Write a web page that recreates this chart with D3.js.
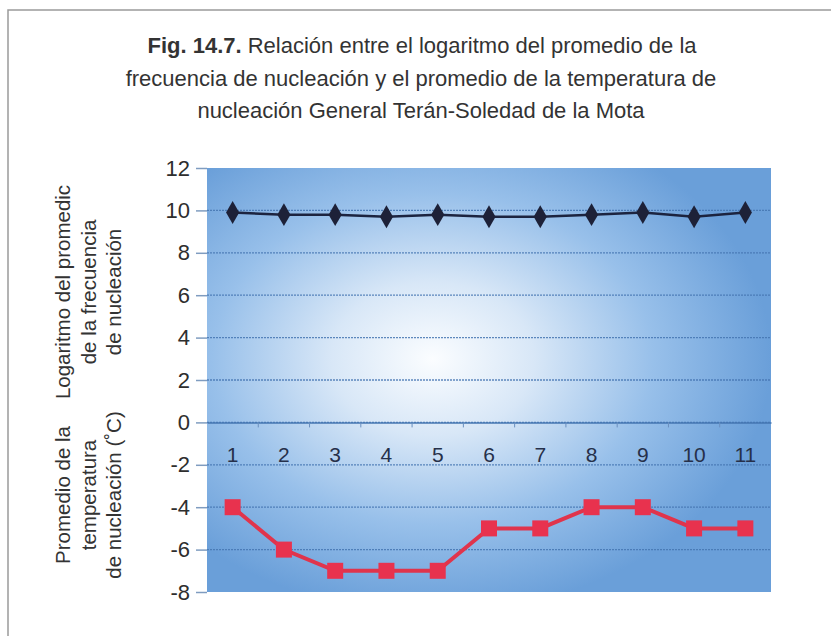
<!DOCTYPE html>
<html>
<head>
<meta charset="utf-8">
<script src="https://cdn.jsdelivr.net/npm/d3@7"></script>
<style>
  body { margin: 0; background: #fff; }
  svg { display: block; font-family: "Liberation Sans", Arial, sans-serif; }
</style>
</head>
<body>
<div id="chart"></div>
<script>
// Data
const categories = ["1", "2", "3", "4", "5", "6", "7", "8", "9", "10", "11"];
const logFrequency = [9.9, 9.8, 9.8, 9.7, 9.8, 9.7, 9.7, 9.8, 9.9, 9.7, 9.9];
const temperature = [-4, -6, -7, -7, -7, -5, -5, -4, -4, -5, -5];
const yTicks = [-8, -6, -4, -2, 0, 2, 4, 6, 8, 10, 12];
const titleLines = [
    "Relación entre el logaritmo del promedio de la",
    "frecuencia de nucleación y el promedio de la temperatura de",
    "nucleación General Terán-Soledad de la Mota"
];
const titlePrefix = "Fig. 14.7.";
const yTitleTop = ["Logaritmo del promedic", "de la frecuencia", "de nucleación"];
const yTitleBottom = ["Promedio de la", "temperatura", "de nucleación (˚C)"];

const W = 831, H = 636;
const plot = {left: 207, right: 771, top: 168, bottom: 592};

const svg = d3.select("#chart").append("svg")
    .attr("width", W)
    .attr("height", H);

svg.append("rect").attr("width", W).attr("height", H).attr("fill", "#fff");

// outer frame of the scanned page
svg.append("rect")
    .attr("x", 8).attr("y", 10)
    .attr("width", 860).attr("height", 660)
    .attr("fill", "none")
    .attr("stroke", "#9a9a9a")
    .attr("stroke-width", 1.5);

// Title
const title = svg.append("g").attr("fill", "#333").attr("font-size", 22).attr("text-anchor", "middle");
const t1 = title.append("text").attr("x", 422).attr("y", 53);
t1.append("tspan").attr("font-weight", "bold").text(titlePrefix + " ");
t1.append("tspan").text(titleLines[0]);
titleLines.slice(1).forEach((l, i) => {
    title.append("text").attr("x", 421).attr("y", 86 + i * 32).text(l);
});

const x = d3.scaleBand().domain(categories).range([plot.left, plot.right]);
const y = d3.scaleLinear().domain([-8, 12]).range([plot.bottom, plot.top]);

// Plot background gradient
const defs = svg.append("defs");
const grad = defs.append("radialGradient")
    .attr("id", "bg")
    .attr("cx", "40%").attr("cy", "45%").attr("r", "60%");
grad.append("stop").attr("offset", 0).attr("stop-color", "#fbfdff");
grad.append("stop").attr("offset", 0.3).attr("stop-color", "#d8e7f7");
grad.append("stop").attr("offset", 0.65).attr("stop-color", "#98c0ea");
grad.append("stop").attr("offset", 1).attr("stop-color", "#6a9fd9");

svg.append("rect")
    .attr("x", plot.left).attr("y", plot.top)
    .attr("width", plot.right - plot.left)
    .attr("height", plot.bottom - plot.top)
    .attr("fill", "url(#bg)");

// Gridlines
svg.append("g")
    .selectAll("line")
    .data(yTicks.filter(d => d !== 12 && d !== -8))
    .join("line")
    .attr("x1", plot.left).attr("x2", plot.right)
    .attr("y1", d => y(d)).attr("y2", d => y(d))
    .attr("stroke", "#4576b2")
    .attr("stroke-width", 1.3)
    .attr("stroke-dasharray", "2,1")
    .attr("opacity", 0.85);

// Y axis
const yAxis = svg.append("g")
    .attr("transform", `translate(${plot.left},0)`)
    .call(d3.axisLeft(y).tickValues(yTicks).tickSize(11).tickPadding(6).tickFormat(d3.format("d")));
yAxis.select(".domain").remove();
yAxis.selectAll(".tick line").attr("stroke", "#7f9cc0").attr("stroke-width", 1.5);
yAxis.selectAll(".tick text")
    .attr("font-size", 22)
    .attr("fill", "#2e2e2e")
    .attr("font-family", "'Liberation Sans', Arial, sans-serif")
    .text(d => d < 0 ? "-" + Math.abs(d) : d);

// X axis at zero
const xAxis = svg.append("g")
    .attr("transform", `translate(0,${y(0)})`)
    .call(d3.axisBottom(x).tickSize(0).tickPadding(25));
xAxis.select(".domain").attr("stroke", "#4576b2").attr("stroke-width", 1.5);
xAxis.selectAll(".tick text")
    .attr("font-size", 21)
    .attr("fill", "#26304a")
    .attr("font-family", "'Liberation Sans', Arial, sans-serif");
// small tick marks on category boundaries
svg.append("g")
    .selectAll("line")
    .data(categories.slice(1))
    .join("line")
    .attr("x1", d => x(d)).attr("x2", d => x(d))
    .attr("y1", y(0)).attr("y2", y(0) + 5)
    .attr("stroke", "#6a8fbf")
    .attr("stroke-width", 1);

const cx = (d, i) => x(categories[i]) + x.bandwidth() / 2;

// Log frequency series
svg.append("path")
    .datum(logFrequency)
    .attr("fill", "none")
    .attr("stroke", "#1c2440")
    .attr("stroke-width", 2.5)
    .attr("d", d3.line().x(cx).y(d => y(d)));
svg.append("g")
    .selectAll("path")
    .data(logFrequency)
    .join("path")
    .attr("transform", (d, i) => `translate(${cx(d, i)},${y(d)})`)
    .attr("d", d3.symbol(d3.symbolDiamond, 150))
    .attr("fill", "#1d2138");

// Temperature series
svg.append("path")
    .datum(temperature)
    .attr("fill", "none")
    .attr("stroke", "#e0344c")
    .attr("stroke-width", 4)
    .attr("d", d3.line().x(cx).y(d => y(d)));
svg.append("g")
    .selectAll("rect")
    .data(temperature)
    .join("rect")
    .attr("x", (d, i) => cx(d, i) - 8)
    .attr("y", d => y(d) - 8)
    .attr("width", 16).attr("height", 16)
    .attr("fill", "#e8324e");

// Y axis titles (rotated)
function yTitle(lines, centerY) {
    const g = svg.append("g")
        .attr("fill", "#333")
        .attr("font-size", 20.5)
        .attr("text-anchor", "middle");
    lines.forEach((l, i) => {
        g.append("text")
            .attr("transform", `translate(${70 + i * 25.5},${centerY}) rotate(-90)`)
            .text(l);
    });
}
yTitle(yTitleTop, 292);
yTitle(yTitleBottom, 495);
</script>
</body>
</html>
